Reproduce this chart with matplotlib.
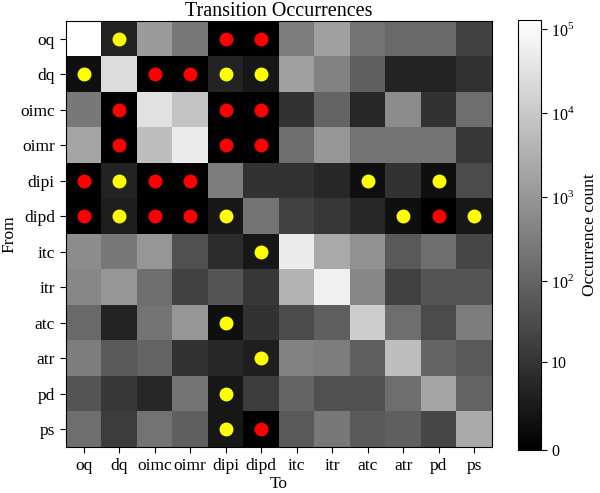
import matplotlib.pyplot as plt
import numpy as np

plt.rcParams['font.family'] = ['Liberation Serif', 'DejaVu Serif']
plt.rcParams['mathtext.fontset'] = 'custom'
plt.rcParams['mathtext.rm'] = 'Liberation Serif'

states = ['oq', 'dq', 'oimc', 'oimr', 'dipi', 'dipd', 'itc', 'itr', 'atc', 'atr', 'pd', 'ps']

# conteos estimados (fila = desde, columna = hacia)
row_oq   = [128000, 4, 1271, 252, 0, 0, 318, 1600, 200, 126, 126, 19]
row_dq   = [1, 25470, 0, 0, 4, 2, 1600, 400, 79, 4, 4, 9]
row_oimc = [252, 0, 32070, 8037, 0, 0, 9, 100, 5, 636, 9, 159]
row_oimr = [2017, 0, 6384, 50920, 0, 0, 159, 1008, 200, 200, 200, 12]
row_dipi = [0, 4, 0, 0, 318, 9, 9, 5, 1, 9, 1, 31]
row_dipd = [0, 3, 0, 0, 2, 200, 19, 12, 5, 1, 0, 2]
row_itc  = [636, 252, 1008, 39, 7, 2, 50920, 2539, 800, 62, 159, 24]
row_itr  = [505, 1008, 159, 19, 49, 12, 4027, 64120, 505, 19, 49, 49]
row_atc  = [126, 4, 200, 1008, 1, 9, 31, 79, 12764, 159, 31, 318]
row_atr  = [318, 62, 100, 9, 5, 3, 400, 318, 79, 6384, 100, 62]
row_pd   = [49, 12, 5, 200, 2, 15, 100, 39, 39, 159, 2017, 100]
row_ps   = [159, 15, 200, 79, 2, 0, 62, 252, 62, 79, 24, 2539]

counts = np.array([row_oq, row_dq, row_oimc, row_oimr, row_dipi, row_dipd,
                   row_itc, row_itr, row_atc, row_atr, row_pd, row_ps])

# marcas (fila, columna)
red_rows = [0, 0, 1, 1, 2, 2, 2, 3, 3, 3, 4, 4, 4, 5, 5, 5, 5, 11]
red_cols = [4, 5, 2, 3, 1, 4, 5, 1, 4, 5, 0, 2, 3, 0, 2, 3, 10, 5]
yel_rows = [0, 1, 1, 1, 4, 4, 4, 5, 5, 5, 5, 6, 8, 9, 10, 11]
yel_cols = [1, 0, 4, 5, 1, 8, 10, 1, 4, 9, 11, 5, 4, 5, 4, 4]

cbar_ticks = [0, 10, 100, 1000, 10000, 100000]
cbar_labels = ['0', '10', r'$10^2$', r'$10^3$', r'$10^4$', r'$10^5$']

fig = plt.figure(figsize=(6, 4.93), dpi=100)
ax = fig.add_axes([0.11, 0.0933, 0.71, 0.864])
cax = fig.add_axes([0.863, 0.0872, 0.038, 0.872])

vals = np.log10(counts + 1)
im = ax.imshow(vals, cmap='gray', vmin=0, vmax=vals.max(), aspect='auto',
               interpolation='nearest')
ax.plot(red_cols, red_rows, 'o', color='red', markersize=9, linestyle='none')
ax.plot(yel_cols, yel_rows, 'o', color='yellow', markersize=9, linestyle='none')

ax.set_xticks(range(len(states)))
ax.set_yticks(range(len(states)))
ax.set_xticklabels(states, fontsize=12.5)
ax.set_yticklabels(states, fontsize=12.5)
ax.tick_params(length=4, pad=4)
ax.set_xlabel('To', fontsize=12.5, labelpad=1)
ax.set_ylabel('From', fontsize=12.5, labelpad=2)
ax.set_title('Transition Occurrences', fontsize=14.5, pad=2)
ax.set_xlim(-0.5, 11.5)
ax.set_ylim(11.5, -0.5)

cb = fig.colorbar(im, cax=cax)
cb.set_ticks(np.log10(np.array(cbar_ticks) + 1))
cb.set_ticklabels(cbar_labels, fontsize=11.5)
cb.set_label('Occurrence count', fontsize=12.5, labelpad=5)
cb.ax.minorticks_off()
cb.ax.tick_params(length=4)

fig.savefig('out.png', dpi=100)
